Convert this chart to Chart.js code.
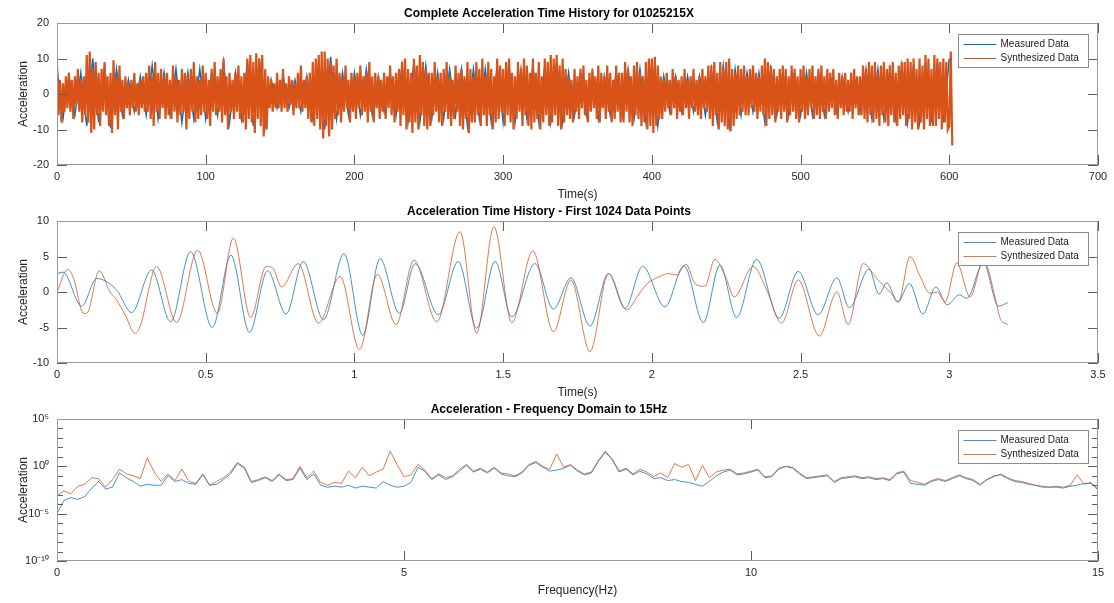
<!DOCTYPE html>
<html>
<head>
<meta charset="utf-8">
<title>Acceleration records</title>
<script src="https://cdn.jsdelivr.net/npm/chart.js@4.4.1/dist/chart.umd.min.js"></script>
<style>
  html, body { margin: 0; padding: 0; background: #fff; }
  body { width: 1114px; height: 603px; position: relative; overflow: hidden; }
  .panel { position: absolute; left: 0; width: 1114px; height: 207px; }
</style>
</head>
<body>
<div class="panel" style="top:0"><canvas id="fullChart" width="1114" height="207"></canvas></div>
<div class="panel" style="top:198px"><canvas id="firstChart" width="1114" height="207"></canvas></div>
<div class="panel" style="top:396px"><canvas id="freqChart" width="1114" height="207"></canvas></div>
<script>
// ---- complete record, 0 - 602 s ----
const synthStep = 1;    // s between synthesized values
const measuredStep = 4; // s between measured values

const synthFull = [
  8.5, -6, 4, -8, 3, -5, 5, -4, 6, -5,
  4, -7, 5, -3, 7, -5, 4, -8, 5, -6,
  11, -8, 12, -11, 7, -10, 9, -6, 6, -9,
  7, -5, 9, -6, 5, -9, 6, -11, 9.5, -6,
  5, -10, 8, -5, 4, -7, 5, -4, 3, -6,
  4, -4, 6, -5, 3, -6, 4, -4, 5, -5,
  6, -5, 8, -7, 5, -9, 9, -5, 6, -7,
  7, -4, 5, -7, 6, -6, 4, -7, 8, -5,
  5, -8, 4, -6, 7, -5, 6, -10, 5, -7,
  7, -5, 9, -8, 5, -7, 4, -6, 8, -5,
  6, -7, 4, -9, 7, -5, 9, -6, 5, -5,
  7, -8, 10, -6, 5, -10, 6, -5, 4, -7,
  6, -5, 8, -7, 5, -8, 6, -10, 10, -7,
  11, -8, 9, -11, 11.5, -7, 10, -9, 11, -12,
  7, -10, 5, -4, 4, -5, 3, -4, 6, -4,
  4, -5, 7, -4, 3, -5, 5, -3, 4, -6,
  3, -4, 6, -4, 8, -5, 4, -4, 5, -7,
  6, -8, 9, -9, 10, -7, 11, -10, 12, -12.5,
  12, -9, 10, -12, 9, -10, 8, -7, 10, -6,
  6, -8, 5, -5, 8, -4, 4, -8, 6, -5,
  5, -7, 6, -4, 8, -6, 5, -5, 6, -8,
  9, -5, 5, -8, 6, -4, 5, -7, 4, -5,
  6, -7, 5, -4, 8, -6, 5, -8, 6, -5,
  7, -9, 9, -6, 10, -10, 7, -8, 6, -11,
  10, -8, 8, -10, 11, -6, 9, -9, 7, -10,
  6, -9, 6, -6, 9, -5, 5, -8, 6, -9,
  7, -5, 9, -7, 5, -9, 4, -7, 8, -5,
  6, -9, 7, -10, 5, -7, 9, -11, 7, -8,
  5, -8, 9, -6, 7, -9, 10, -6, 5, -9,
  9, -6, 7, -10, 5, -8, 10, -7, 8, -5,
  7, -9, 9, -6, 10, -8, 6, -10, 5, -7,
  9, -5, 7, -9, 10, -6, 8, -9, 6, -10,
  10, -8, 6, -7, 9, -10, 5, -8, 10, -6,
  9, -9, 11, -8, 10, -6, 11, -9, 8, -10,
  10, -8, 7, -6, 5, -7, 4, -8, 7, -5,
  5, -7, 7, -4, 8, -6, 4, -8, 6, -5,
  7, -4, 5, -7, 8, -8, 6, -4, 5, -7,
  8, -5, 6, -8, 4, -7, 8, -5, 6, -8,
  6, -8, 9, -5, 7, -8, 5, -9, 8, -6,
  9, -7, 6, -9, 5, -8, 9, -10, 10, -9,
  10, -11, 10.5, -9, 8, -7, 5, -7, 4, -5,
  6, -4, 4, -6, 7, -4, 5, -7, 4, -5,
  5, -6, 7, -4, 4, -7, 5, -4, 7, -5,
  4, -6, 5, -7, 7, -4, 5, -5, 8, -7,
  8, -9, 9, -6, 6, -10, 9, -8, 7, -9,
  9, -10, 10, -10.5, 7, -9, 6, -7, 8, -6,
  7, -5, 8, -6, 5, -6, 7, -4, 8, -5,
  6, -7, 5, -5, 8, -6, 10, -9, 9, -7,
  8, -6, 7, -8, 5, -5, 7, -7, 8, -5,
  7, -8, 5, -6, 8, -5, 7, -7, 5, -8,
  7, -5, 8, -7, 5, -6, 7, -4, 8, -7,
  5, -6, 7, -7, 8, -5, 5, -7, 7, -5,
  6, -4, 7, -6, 4, -7, 6, -4, 5, -6,
  6, -5, 4, -5, 6, -7, 7, -4, 5, -6,
  5, -6, 8, -7, 7, -8, 9, -6, 8, -8,
  9, -7, 6, -9, 8, -6, 9, -8, 7, -9,
  8, -6, 9, -8, 6, -9, 8, -7, 9, -6,
  9, -9, 10, -7, 9, -10, 10, -8, 7, -10,
  10, -8, 8, -10, 11, -7, 10, -9, 7, -9,
  11, -9, 10, -7, 9, -10, 10, -8, 9, -10,
  -9, 12, -14.5
];

const measuredFull = [
  7, -7, 5, -6, 6, -9, 10, -8, 8, -9.5,
  7, -6, 4, -5, 5, -6, 8, -7, 6, -6,
  7, -8, 6, -7, 7, -7, 6, -6, 9, -8,
  6, -7, 9, -9, 10, -9, 4, -4, 5, -4,
  4, -5, 5, -7, 9, -10, 10.5, -7, 6, -6,
  6, -6, 7, -6, 5, -5, 6, -6, 8, -8,
  9, -8, 8, -7, 6, -7, 7, -6, 7, -9,
  7, -7, 7, -8, 8, -8, 8, -8, 7, -7,
  8, -8, 8, -8, 9, -8, 6, -6, 6, -6,
  6, -7, 5, -6, 6, -6, 7, -7, 7, -8,
  9, -9, 5, -5, 5, -5, 5, -5, 5, -6,
  7, -8, 8, -9, 7, -6, 6, -5, 6, -8,
  7, -6, 6, -6, 6, -6, 6, -6, 6, -6,
  5, -5, 5, -5, 5, -5, 7, -7, 7, -7,
  7, -7, 8, -8, 8, -8, 9, -8, 9, -8,
  10
];

// ---- first 1024 points: turning points (s, acceleration) ----
const measuredT = [0, 0.02, 0.083, 0.133, 0.2, 0.251, 0.318, 0.382, 0.449, 0.522,
  0.585, 0.647, 0.708, 0.77, 0.828, 0.896, 0.965, 1.028, 1.086, 1.151,
  1.204, 1.282, 1.349, 1.411, 1.473, 1.529, 1.607, 1.669, 1.728, 1.792,
  1.854, 1.91, 1.969, 2.044, 2.108, 2.173, 2.229, 2.285, 2.352, 2.428,
  2.492, 2.559, 2.622, 2.664, 2.73, 2.764, 2.79, 2.827, 2.866, 2.911,
  2.955, 2.993, 3.034, 3.059, 3.115, 3.165, 3.197];
const measuredA = [2.6, 2.8, -2.0, 1.9, 0.3, -2.9, 3.1, -4.2, 5.7, -5.0,
  5.2, -5.7, 3.0, -3.1, 4.3, -3.9, 5.4, -6.1, 4.7, -3.0,
  4.0, -3.2, 4.3, -5.1, 4.3, -3.5, 4.0, -2.4, 2.0, -4.8,
  2.6, -2.3, 3.6, -2.1, 3.7, -4.3, 3.8, -3.6, 4.6, -3.7,
  2.9, -3.2, 2.0, -2.2, 3.2, -0.3, 1.3, -1.4, 1.2, -3.1,
  0.7, -1.8, -0.4, -0.9, 4.1, -2.0, -1.5];

const synthT = [0, 0.036, 0.055, 0.089, 0.1, 0.142, 0.178, 0.2, 0.229, 0.262,
  0.279, 0.335, 0.402, 0.473, 0.539, 0.593, 0.651, 0.703, 0.725, 0.755,
  0.811, 0.879, 0.952, 1.017, 1.077, 1.14, 1.2, 1.277, 1.355, 1.411,
  1.469, 1.529, 1.6, 1.669, 1.728, 1.792, 1.854, 1.915, 1.955, 1.982,
  2.028, 2.055, 2.083, 2.115, 2.145, 2.178, 2.212, 2.251, 2.276, 2.341,
  2.386, 2.436, 2.492, 2.563, 2.622, 2.66, 2.711, 2.756, 2.801, 2.829,
  2.868, 2.902, 2.935, 2.96, 2.986, 3.025, 3.07, 3.115, 3.154, 3.171, 3.197];
const synthA = [0.0, 3.2, 2.0, -3.0, -3.0, 3.0, 0.0, -1.1, -3.2, -5.8,
  -4.9, 3.6, -4.3, 5.9, -3.0, 7.6, -3.6, 3.6, 3.4, 0.7,
  4.0, -4.4, 2.2, -8.1, 2.5, -4.6, 4.5, -4.2, 8.5, -5.8,
  9.2, -4.3, 5.8, -5.6, 1.7, -8.4, 2.6, -2.5, -0.4, 1.1,
  2.2, 2.6, 2.4, 3.9, 1.2, 0.8, 4.6, 1.8, -0.7, 3.6,
  0.3, -4.4, 1.7, -6.2, 0.0, -4.6, 4.0, 1.9, 0.0, -1.4,
  5.0, 2.2, -0.2, 0.0, -1.4, 4.1, -0.7, 4.5, -0.7, -3.7, -4.6];

// ---- spectrum to 15 Hz: log10 of amplitude every freqStep Hz ----
const freqStep = 0.1;
const measuredSpecLog = [
  -5.0, -3.6, -3.3, -3.5, -3.2, -2.3, -1.6, -2.4, -2.2, -0.7,
  -1.2, -1.6, -2.1, -1.9, -2.0, -2.0, -1.0, -1.6, -1.4, -1.8,
  -1.9, -0.9, -2.0, -1.9, -1.4, -0.8, 0.3, -0.2, -1.7, -1.5,
  -1.2, -1.6, -0.9, -1.5, -1.4, -0.2, -1.4, -0.8, -2.0, -2.2,
  -2.1, -2.2, -2.0, -2.3, -2.1, -2.2, -2.3, -1.6, -2.0, -2.2,
  -2.1, -1.7, -0.1, -0.5, -1.4, -0.9, -1.4, -1.1, -0.5, 0.1,
  -0.6, -0.3, -0.7, -0.2, -0.8, -1.0, -1.1, -0.7, 0.1, 0.4,
  -0.1, -0.5, -0.4, -0.2, 0.1, -0.5, -0.9, -0.7, 0.5, 1.5,
  0.7, -0.6, -0.3, -0.9, -0.5, -0.8, -1.3, -1.2, -1.5, -1.4,
  -1.6, -1.7, -1.9, -2.1, -1.6, -1.0, -0.6, -0.4, -0.9, -0.8,
  -0.6, -0.4, -1.2, -1.1, -0.3, 0.0, -0.2, -0.8, -1.3, -1.2,
  -1.1, -1.0, -1.7, -1.3, -1.2, -1.1, -1.3, -1.2, -1.4, -1.3,
  -1.5, -0.8, -0.6, -1.8, -1.9, -2.0, -1.6, -1.4, -1.6, -1.3,
  -1.0, -1.3, -1.5, -2.0, -1.4, -1.0, -0.9, -1.3, -1.6, -1.7,
  -1.9, -2.0, -2.2, -2.2, -2.2, -2.3, -2.1, -2.0, -1.8, -1.8,
  -2.5
];
const synthSpecLog = [
  -3.1, -2.6, -2.9, -2.1, -1.9, -1.2, -1.3, -2.2, -1.4, -0.3,
  -0.8, -1.0, -1.3, 0.9, -0.6, -1.6, -0.8, -1.5, -0.3, -1.6,
  -1.8, -0.8, -2.0, -1.6, -1.2, -0.6, 0.4, -0.1, -1.6, -1.4,
  -1.1, -1.5, -0.8, -1.4, -1.3, 0.0, -1.2, -0.5, -1.7, -2.0,
  -1.7, -1.8, -0.5, -1.2, -0.1, -1.0, -0.6, -0.3, 1.6, 0.2,
  -1.1, -0.9, 0.2, -0.4, -1.3, -0.8, -1.2, -1.0, -0.3, 0.2,
  -0.5, -0.2, -0.6, -0.1, -0.7, -0.8, -1.0, -0.6, 0.2, 0.5,
  0.0, -0.3, 1.3, -0.1, 0.2, -0.4, -0.8, -0.6, 0.6, 1.6,
  0.8, -0.5, -0.2, -0.8, -0.3, -0.6, -1.1, -0.7, -1.2, 0.3,
  -0.1, 0.2, -1.5, 0.1, -1.2, -0.6, -0.4, -0.3, -0.8, -0.7,
  -0.5, -0.3, -1.1, -1.0, -0.2, 0.0, -0.1, -0.7, -1.2, -1.1,
  -1.0, -0.9, -1.6, -1.2, -1.1, -1.0, -1.2, -1.1, -1.3, -1.2,
  -1.4, -0.7, -0.5, -1.5, -1.7, -1.9, -1.5, -1.3, -1.5, -1.2,
  -0.9, -1.2, -1.4, -1.9, -1.4, -1.1, -0.8, -1.2, -1.5, -1.6,
  -1.8, -2.0, -2.1, -2.2, -2.1, -2.2, -2.0, -0.9, -1.9, -1.7,
  -2.4
];
const specDecades = [-10, -5, 0, 5];

const FONT = "'Liberation Sans', Arial, Helvetica, sans-serif";
const BLUE = "#0072BD";
const ORANGE = "#D95319";
const BLUE_THIN = "rgba(0, 114, 189, 0.75)";
const ORANGE_THIN = "rgba(217, 83, 25, 0.78)";

function stepped(values, step) {
  return values.map((v, i) => ({ x: +(i * step).toFixed(3), y: v }));
}
function paired(ts, vs) {
  return ts.map((t, i) => ({ x: t, y: vs[i] }));
}
function fromLog(values, step) {
  return values.map((e, i) => ({ x: +(i * step).toFixed(3), y: Math.pow(10, e) }));
}

const SUP = { "-": "\u207B", "0": "\u2070", "1": "\u00B9", "5": "\u2075" };
function powerLabel(v) {
  const e = String(Math.round(Math.log10(v)));
  return "10" + e.split("").map((c) => SUP[c]).join("");
}

// box, inward ticks on every side and the legend inside the upper right corner
const matlabAxes = {
  id: "matlabAxes",
  afterDraw(chart) {
    const { ctx, chartArea: a } = chart;
    const xs = chart.scales.x;
    const ys = chart.scales.y;
    ctx.save();
    ctx.lineWidth = 1;
    ctx.strokeStyle = "#5c5c5c";
    ctx.beginPath();
    xs.ticks.forEach((t) => {
      const px = Math.round(xs.getPixelForValue(t.value)) + 0.5;
      ctx.moveTo(px, a.bottom); ctx.lineTo(px, a.bottom - 10);
      ctx.moveTo(px, a.top); ctx.lineTo(px, a.top + 10);
    });
    ys.ticks.forEach((t) => {
      const py = Math.round(ys.getPixelForValue(t.value)) + 0.5;
      ctx.moveTo(a.left, py); ctx.lineTo(a.left + 10, py);
      ctx.moveTo(a.right, py); ctx.lineTo(a.right - 10, py);
    });
    if (ys.type === "logarithmic") {
      for (let e = -9; e < 5; e++) {
        if (e % 5 === 0) continue;
        const py = Math.round(ys.getPixelForValue(Math.pow(10, e))) + 0.5;
        ctx.moveTo(a.left, py); ctx.lineTo(a.left + 6, py);
        ctx.moveTo(a.right, py); ctx.lineTo(a.right - 6, py);
      }
    }
    ctx.stroke();

    ctx.strokeStyle = "#9a9a9a";
    ctx.strokeRect(Math.round(a.left) + 0.5, Math.round(a.top) + 0.5,
      Math.round(a.width) - 1, Math.round(a.height) - 1);

    // legend
    const w = 130, h = 33;
    const lx = Math.round(a.right - 10 - w) + 0.5;
    const ly = Math.round(a.top + 11) + 0.5;
    ctx.fillStyle = "#fff";
    ctx.fillRect(lx, ly, w, h);
    ctx.strokeStyle = "#8c8c8c";
    ctx.strokeRect(lx, ly, w, h);
    ctx.font = "10px " + FONT;
    ctx.textBaseline = "middle";
    chart.data.datasets.forEach((ds, i) => {
      const rowY = Math.round(ly + 9 + i * 14) + 0.5;
      ctx.strokeStyle = ds.borderColor;
      ctx.lineWidth = 1;
      ctx.beginPath();
      ctx.moveTo(lx + 5, rowY); ctx.lineTo(lx + 38, rowY);
      ctx.stroke();
      ctx.fillStyle = "#1a1a1a";
      ctx.fillText(ds.label, lx + 42, rowY);
    });
    ctx.restore();
  }
};

function makeChart(id, cfg) {
  return new Chart(document.getElementById(id), {
    type: "line",
    data: { datasets: cfg.datasets },
    options: {
      responsive: false,
      animation: false,
      events: [],
      layout: { padding: { left: 0, right: 16, top: 0, bottom: 0 } },
      elements: { point: { radius: 0 }, line: { borderWidth: 1 } },
      plugins: {
        legend: { display: false },
        tooltip: { enabled: false },
        title: {
          display: true,
          text: cfg.title,
          color: "#000",
          font: { family: FONT, size: 12, weight: "bold", lineHeight: 1.2 },
          padding: { top: 6, bottom: 2.6 },
        },
      },
      scales: {
        x: {
          type: "linear",
          min: cfg.xMin,
          max: cfg.xMax,
          grid: { display: false, drawTicks: false },
          border: { display: false },
          ticks: {
            stepSize: cfg.xStep,
            maxRotation: 0,
            autoSkip: false,
            padding: 5,
            color: "#262626",
            font: { family: FONT, size: 11, lineHeight: 1.2 },
            callback: (v) => String(+Number(v).toFixed(2)),
          },
          title: {
            display: true,
            text: cfg.xTitle,
            color: "#262626",
            font: { family: FONT, size: 12, lineHeight: 1.2 },
            padding: { top: 0, bottom: 5.3 },
          },
          afterFit: (s) => { s.height = 42; },
        },
        y: Object.assign({
          grid: { display: false, drawTicks: false },
          border: { display: false },
          title: {
            display: true,
            text: "Acceleration",
            color: "#262626",
            font: { family: FONT, size: 12, lineHeight: 1.2 },
            padding: { top: 16, bottom: 0 },
          },
          afterFit: (s) => { s.width = 57; },
        }, cfg.y),
      },
    },
    plugins: [matlabAxes],
  });
}

makeChart("fullChart", {
  title: "Complete Acceleration Time History for 01025215X",
  xTitle: "Time(s)",
  xMin: 0, xMax: 700, xStep: 100,
  y: {
    type: "linear", min: -20, max: 20,
    ticks: { stepSize: 10, padding: 8, color: "#262626", font: { family: FONT, size: 11 } },
  },
  datasets: [
    { label: "Measured Data", data: stepped(measuredFull, measuredStep), borderColor: BLUE, borderWidth: 1.5, order: 1 },
    { label: "Synthesized Data", data: stepped(synthFull, synthStep), borderColor: ORANGE, borderWidth: 2.2, order: 0 },
  ],
});

makeChart("firstChart", {
  title: "Acceleration Time History - First 1024 Data Points",
  xTitle: "Time(s)",
  xMin: 0, xMax: 3.5, xStep: 0.5,
  y: {
    type: "linear", min: -10, max: 10,
    ticks: { stepSize: 5, padding: 8, color: "#262626", font: { family: FONT, size: 11 } },
  },
  datasets: [
    { label: "Measured Data", data: paired(measuredT, measuredA), borderColor: BLUE_THIN, cubicInterpolationMode: "monotone", order: 1 },
    { label: "Synthesized Data", data: paired(synthT, synthA), borderColor: ORANGE_THIN, cubicInterpolationMode: "monotone", order: 0 },
  ],
});

makeChart("freqChart", {
  title: "Acceleration - Frequency Domain to 15Hz",
  xTitle: "Frequency(Hz)",
  xMin: 0, xMax: 15, xStep: 5,
  y: {
    type: "logarithmic", min: 1e-10, max: 1e5,
    afterBuildTicks: (s) => { s.ticks = specDecades.map((e) => ({ value: Math.pow(10, e) })); },
    ticks: { padding: 8, color: "#262626", font: { family: FONT, size: 11 }, callback: (v) => powerLabel(v) },
  },
  datasets: [
    { label: "Measured Data", data: fromLog(measuredSpecLog, freqStep), borderColor: BLUE_THIN, order: 1 },
    { label: "Synthesized Data", data: fromLog(synthSpecLog, freqStep), borderColor: ORANGE_THIN, order: 0 },
  ],
});
</script>
</body>
</html>
